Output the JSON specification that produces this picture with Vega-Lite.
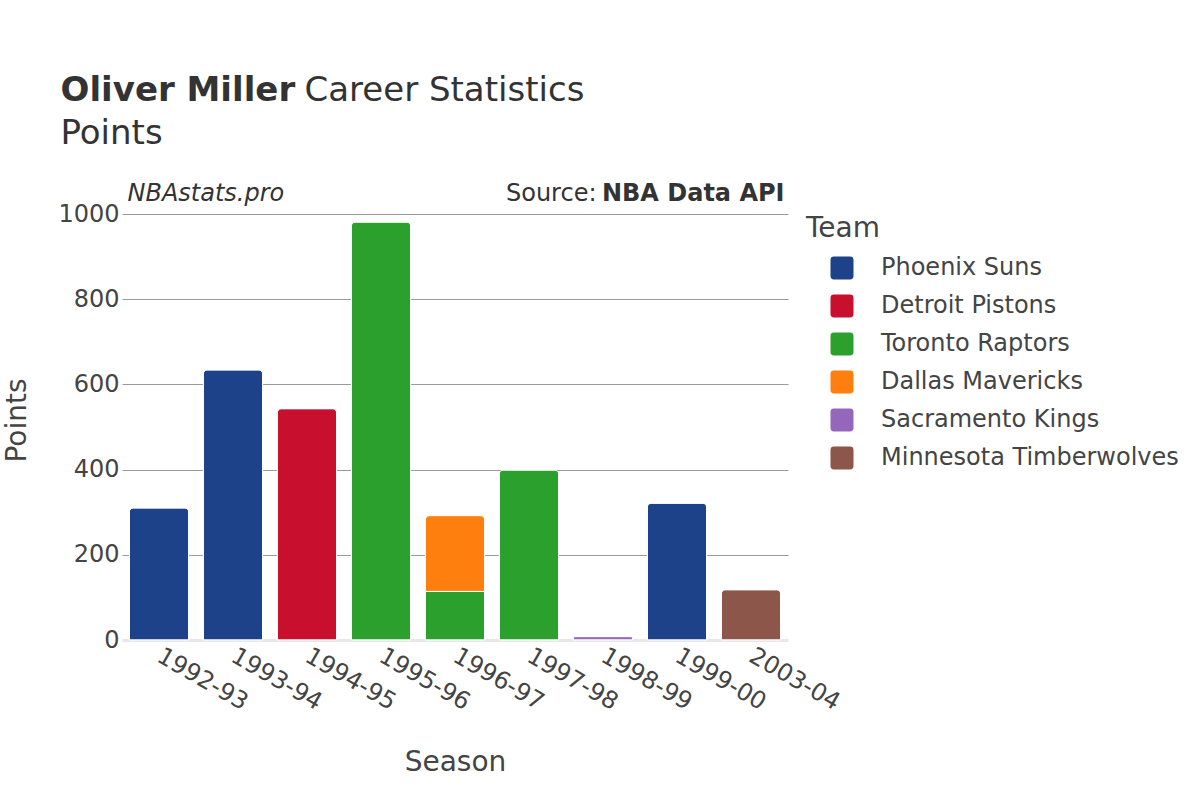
{
  "$schema": "https://vega.github.io/schema/vega-lite/v6.json",
  "autosize": {"type": "none"},
  "width": 666,
  "height": 426,
  "padding": {"left": 122, "top": 214, "right": 412, "bottom": 160},
  "background": "white",
  "config": {
    "view": {"stroke": null},
    "font": "DejaVu Sans",
    "axis": {"labelFont": "DejaVu Sans", "titleFont": "DejaVu Sans", "labelColor": "#444", "titleColor": "#444", "titleFontWeight": "normal"}
  },
  "data": {
    "values": [
      {"Season": "1992-93", "Team": "Phoenix Suns", "Points": 310},
      {"Season": "1993-94", "Team": "Phoenix Suns", "Points": 634},
      {"Season": "1994-95", "Team": "Detroit Pistons", "Points": 543},
      {"Season": "1995-96", "Team": "Toronto Raptors", "Points": 981},
      {"Season": "1996-97", "Team": "Toronto Raptors", "Points": 114},
      {"Season": "1996-97", "Team": "Dallas Mavericks", "Points": 178},
      {"Season": "1997-98", "Team": "Toronto Raptors", "Points": 399},
      {"Season": "1998-99", "Team": "Sacramento Kings", "Points": 8},
      {"Season": "1999-00", "Team": "Phoenix Suns", "Points": 321},
      {"Season": "2003-04", "Team": "Minnesota Timberwolves", "Points": 118}
    ]
  },
  "resolve": {"axis": {"x": "independent", "y": "independent"}},
  "layer": [
    {
      "mark": {"type": "bar", "cornerRadiusTopLeft": 4, "cornerRadiusTopRight": 4, "stroke": "white", "strokeWidth": 1},
      "encoding": {
        "x": {
          "field": "Season", "type": "nominal", "sort": "ascending",
          "scale": {"paddingInner": 0.2, "paddingOuter": 0.1},
          "axis": {"orient": "bottom", "title": "Season", "titleFontSize": 28, "titleX": 333, "titleY": 130, "titleBaseline": "alphabetic", "titleAlign": "center",
                   "labelAngle": 30, "labelAlign": "left", "labelBaseline": "middle", "labelFontSize": 24, "labelPadding": 14, "ticks": false,
                   "domain": false, "grid": false}
        },
        "y": {
          "field": "Points", "type": "quantitative", "stack": "zero",
          "scale": {"domain": [0, 1000], "nice": false},
          "axis": {"orient": "left", "title": "Points", "titleFontSize": 28, "titleX": -97, "titleY": 206, "titleAngle": -90, "titleAlign": "center", "titleBaseline": "alphabetic",
                   "values": [0, 200, 400, 600, 800, 1000], "format": "d", "labelFontSize": 24, "labelPadding": 3, "ticks": false, "domain": false,
                   "grid": true,
                   "gridColor": {"condition": {"test": "datum.value === 0", "value": "#e8e8e8"}, "value": "#9a9a9a"},
                   "gridWidth": {"condition": {"test": "datum.value === 0", "value": 3}, "value": 1}}
        },
        "color": {
          "field": "Team", "type": "nominal",
          "scale": {
            "domain": ["Phoenix Suns", "Detroit Pistons", "Toronto Raptors", "Dallas Mavericks", "Sacramento Kings", "Minnesota Timberwolves"],
            "range": ["#1d428a", "#c8102e", "#2ca02c", "#ff7f0e", "#9467bd", "#8c564b"]
          },
          "legend": {
            "orient": "none", "legendX": 684, "legendY": 1, "title": "Team",
            "titleFont": "DejaVu Sans", "titleFontSize": 28, "titleFontWeight": "normal", "titleColor": "#444", "titlePadding": 13,
            "labelFont": "DejaVu Sans", "labelFontSize": 24, "labelColor": "#444", "labelLimit": 0,
            "symbolType": "M -0.7,-1 L 0.7,-1 Q 1,-1 1,-0.7 L 1,0.7 Q 1,1 0.7,1 L -0.7,1 Q -1,1 -1,0.7 L -1,-0.7 Q -1,-1 -0.7,-1 Z",
            "symbolSize": 529, "symbolStrokeWidth": 0, "symbolOpacity": 1,
            "rowPadding": 14, "symbolOffset": 24, "labelOffset": 27
          }
        },
        "order": {"field": "Team", "sort": "descending"}
      }
    },
    {
      "mark": {"type": "bar", "opacity": 0},
      "encoding": {
        "x": {"field": "Season", "type": "nominal", "sort": "ascending", "scale": {"paddingInner": 0.2, "paddingOuter": 0.1},
              "axis": {"orient": "top", "title": "Oliver Miller", "titleFontSize": 34, "titleFontWeight": "bold", "titleColor": "#333",
                       "titleX": -62, "titleY": -114, "titleAlign": "left", "titleBaseline": "alphabetic",
                       "labels": false, "ticks": false, "domain": false, "grid": false}},
        "y": {"field": "Points", "type": "quantitative", "stack": null, "scale": {"domain": [0, 1000], "nice": false},
              "axis": {"orient": "right", "title": "NBA Data API", "titleFontSize": 24, "titleFontWeight": "bold", "titleColor": "#333",
                       "titleAngle": 0, "titleX": -4, "titleY": -14, "titleAlign": "right", "titleBaseline": "alphabetic",
                       "labels": false, "ticks": false, "domain": false, "grid": false}}
      }
    },
    {
      "mark": {"type": "bar", "opacity": 0},
      "encoding": {
        "x": {"field": "Season", "type": "nominal", "sort": "ascending", "scale": {"paddingInner": 0.2, "paddingOuter": 0.1},
              "axis": {"orient": "top", "title": "Career Statistics", "titleFontSize": 34, "titleFontWeight": "normal", "titleColor": "#333",
                       "titleX": 182, "titleY": -114, "titleAlign": "left", "titleBaseline": "alphabetic",
                       "labels": false, "ticks": false, "domain": false, "grid": false}},
        "y": {"field": "Points", "type": "quantitative", "stack": null, "scale": {"domain": [0, 1000], "nice": false},
              "axis": {"orient": "right", "title": "Source:", "titleFontSize": 24, "titleFontWeight": "normal", "titleColor": "#333",
                       "titleAngle": 0, "titleX": -192, "titleY": -14, "titleAlign": "right", "titleBaseline": "alphabetic",
                       "labels": false, "ticks": false, "domain": false, "grid": false}}
      }
    },
    {
      "mark": {"type": "bar", "opacity": 0},
      "encoding": {
        "x": {"field": "Season", "type": "nominal", "sort": "ascending", "scale": {"paddingInner": 0.2, "paddingOuter": 0.1},
              "axis": {"orient": "top", "title": "Points", "titleFontSize": 34, "titleFontWeight": "normal", "titleColor": "#333",
                       "titleX": -62, "titleY": -71, "titleAlign": "left", "titleBaseline": "alphabetic",
                       "labels": false, "ticks": false, "domain": false, "grid": false}},
        "y": {"field": "Points", "type": "quantitative", "stack": null, "scale": {"domain": [0, 1000], "nice": false},
              "axis": {"orient": "left", "title": "NBAstats.pro", "titleFontSize": 24, "titleFontWeight": "normal", "titleFontStyle": "italic", "titleColor": "#333",
                       "titleAngle": 0, "titleX": 5, "titleY": -14, "titleAlign": "left", "titleBaseline": "alphabetic",
                       "labels": false, "ticks": false, "domain": false, "grid": false}}
      }
    }
  ]
}
